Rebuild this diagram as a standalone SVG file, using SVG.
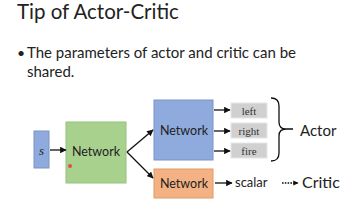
<svg xmlns="http://www.w3.org/2000/svg" width="356" height="200" viewBox="0 0 356 200">
<defs>
<marker id="ah" viewBox="0 0 10 10" refX="9" refY="5" markerWidth="5.5" markerHeight="5" orient="auto"><path d="M0,0 L10,5 L0,10 z" fill="#111"/></marker>
<marker id="ah2" viewBox="0 0 10 10" refX="9" refY="5" markerWidth="4.5" markerHeight="4" orient="auto"><path d="M0,0 L10,5 L0,10 z" fill="#111"/></marker>
<style>
.t{font-family:Lato,"Liberation Sans",sans-serif;fill:#222}
.net{font-family:Lato,"Liberation Sans",sans-serif;font-size:12.5px;fill:#222;text-anchor:middle}
.lab{font-family:"Liberation Serif",serif;font-size:11px;fill:#333;text-anchor:middle}
.ln{stroke:#111;stroke-width:1.3;fill:none}
</style>
</defs>
<rect width="356" height="200" fill="#fff"/>
<text class="t" x="17" y="19" font-size="20.5" fill="#333">Tip of Actor-Critic</text>
<text class="t" x="17" y="58" font-size="14">•</text>
<text class="t" x="27" y="58" font-size="15">The parameters of actor and critic can be</text>
<text class="t" x="27" y="77" font-size="15">shared.</text>
<g id="s"><rect x="34" y="131" width="15" height="37" fill="#8faadc" stroke="#7a93c4"/><text x="41.5" y="155" font-family="Liberation Serif,serif" font-style="italic" font-size="13" text-anchor="middle" fill="#222">s</text></g>
<g id="net1"><rect x="66" y="122" width="60" height="61" fill="#a9d18e" stroke="#96c07a"/><text class="net" x="96" y="156">Network</text></g>
<g id="net2"><rect x="154" y="100" width="59" height="60" fill="#8faadc" stroke="#7a93c4"/><text class="net" x="184" y="135">Network</text></g>
<g id="net3"><rect x="154" y="169" width="59" height="29" fill="#f4b183" stroke="#e09a6a"/><text class="net" x="184" y="188">Network</text></g>
<g id="left"><rect x="231" y="103" width="36" height="15" fill="#d0d0d0" stroke="#e6e6e6"/><text class="lab" x="249" y="114.5">left</text></g>
<g id="right"><rect x="231" y="123" width="36" height="15" fill="#d0d0d0" stroke="#e6e6e6"/><text class="lab" x="249" y="134.5">right</text></g>
<g id="fire"><rect x="231" y="143" width="36" height="15" fill="#d0d0d0" stroke="#e6e6e6"/><text class="lab" x="249" y="154.5">fire</text></g>
<g id="actor"><path d="M271,98 Q279,98 279,106 L279,122 Q279,129 286,129 Q279,129 279,136 L279,153 Q279,161 271,161 M286,129 L293,129" class="ln" stroke-width="1.5"/><text class="t" x="300" y="136" font-size="15">Actor</text></g>
<g id="scalar"><text class="t" x="235" y="187" font-size="13">scalar</text></g>
<g id="critic"><text class="t" x="302" y="188" font-size="16">Critic</text></g>
<circle cx="70" cy="166" r="2" fill="#e8303a" opacity="0.8"/>
<g id="connectors">
<line class="ln" x1="50" y1="150" x2="66" y2="150" marker-end="url(#ah)"/>
<line class="ln" x1="127" y1="152" x2="153" y2="130" marker-end="url(#ah)"/>
<line class="ln" x1="127" y1="152" x2="153" y2="178" marker-end="url(#ah)"/>
<line class="ln" x1="214" y1="110" x2="230" y2="110" marker-end="url(#ah)"/>
<line class="ln" x1="214" y1="131" x2="230" y2="131" marker-end="url(#ah)"/>
<line class="ln" x1="214" y1="151" x2="230" y2="151" marker-end="url(#ah)"/>
<line class="ln" x1="215" y1="183" x2="232" y2="183" marker-end="url(#ah)"/>
<line class="ln" x1="282" y1="183" x2="298" y2="183" stroke-dasharray="1.6,1.2" stroke-width="1.8" marker-end="url(#ah2)"/>
</g>
</svg>
